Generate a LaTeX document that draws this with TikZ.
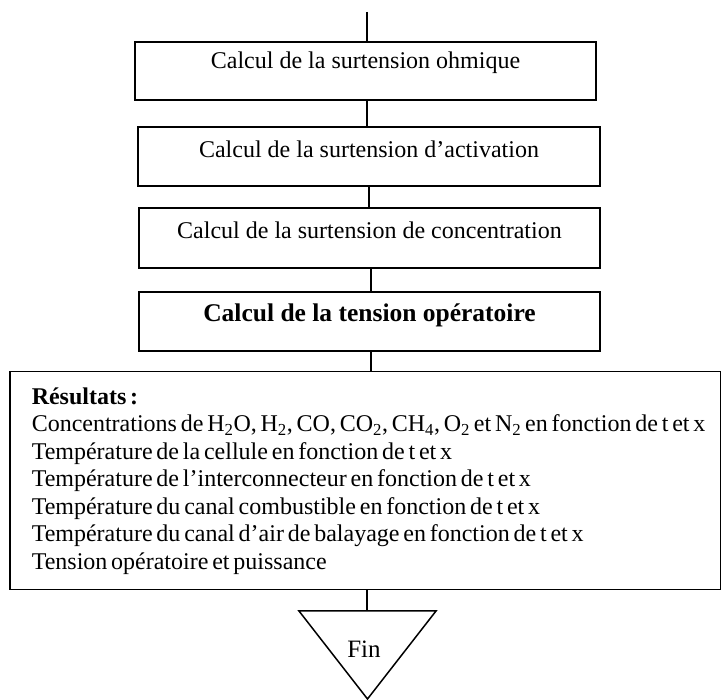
\documentclass[tikz,border=0pt]{standalone}
\usepackage{fontspec}
\setmainfont{Liberation Serif}
\begin{document}
\begin{tikzpicture}[x=1pt,y=-1pt,
  line/.style={line width=1.5pt},
  stepbox/.style={draw, line width=1.5pt, rectangle, inner sep=0pt, align=center,
    font=\fontsize{24}{28}\selectfont},
  resbox/.style={draw, line width=1.5pt, rectangle, anchor=north west, inner xsep=22pt,
    inner ysep=0pt, align=left, font=\fontsize{24}{27.5}\selectfont}]
\useasboundingbox (0,0) rectangle (721,700);
\coordinate (start) at (367,12);
\node[stepbox, minimum width=461pt, minimum height=58pt, text height=27pt, text depth=31pt]
  (b1) at (365.5,71) {Calcul de la surtension ohmique};
\node[stepbox, minimum width=462pt, minimum height=59pt, text height=31pt, text depth=28pt]
  (b2) at (369,156.5) {Calcul de la surtension d’activation};
\node[stepbox, minimum width=461pt, minimum height=60pt, text height=31pt, text depth=29pt]
  (b3) at (369.5,238) {Calcul de la surtension de concentration};
\node[stepbox, minimum width=461pt, minimum height=59pt, text height=30pt, text depth=29pt,
  font=\fontsize{25.5}{28}\selectfont]
  (b4) at (369.5,321.5) {\textbf{Calcul de la tension opératoire}};
\node[resbox, minimum width=711pt, minimum height=218pt, text width=667pt] (res) at (9,371)
  {\spaceskip=3.8pt\relax\textbf{Résultats :}\\
   \mbox{Concentrations de H\textsubscript{2}O, H\textsubscript{2}, CO, CO\textsubscript{2}, CH\textsubscript{4}, O\textsubscript{2} et N\textsubscript{2} en fonction de t et x}\\
   Température de la cellule en fonction de t et x\\
   Température de l’interconnecteur en fonction de t et x\\
   Température du canal combustible en fonction de t et x\\
   Température du canal d’air de balayage en fonction de t et x\\
   Tension opératoire et puissance};
\node[font=\fontsize{25}{28}\selectfont, inner sep=0pt, anchor=base] (fin) at (364,657) {Fin};
\coordinate (fintop) at (367,611);
\draw[line] (299,611) -- (436,611) -- (367.5,699) -- cycle;
\draw[line] (start) -- (start |- b1.north);
\draw[line] ([xshift=1.5pt]b1.south) -- ([xshift=1.5pt]b1.south |- b2.north);
\draw[line] (b2.south) -- (b2.south |- b3.north);
\draw[line] ([xshift=1.5pt]b3.south) -- ([xshift=1.5pt]b3.south |- b4.north);
\draw[line] ([xshift=1.5pt]b4.south) -- ([xshift=1.5pt]b4.south |- res.north);
\draw[line] (fintop |- res.south) -- (fintop);
\end{tikzpicture}
\end{document}
